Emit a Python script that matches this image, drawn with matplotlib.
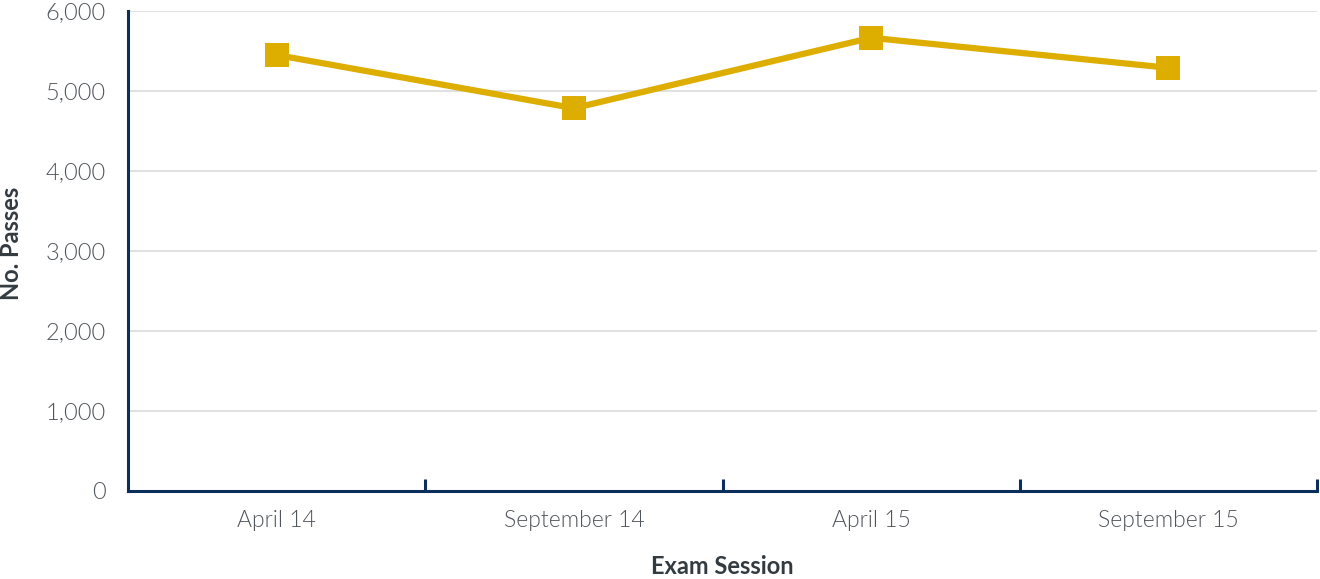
import matplotlib.pyplot as plt
from matplotlib.ticker import FuncFormatter

sessions = ["April 14", "September 14", "April 15", "September 15"]
passes = [5450, 4785, 5665, 5290]
y_ticks = [0, 1000, 2000, 3000, 4000, 5000, 6000]

navy = "#0b2f5b"
gold = "#ddae00"
label_grey = "#50555b"

plt.rcParams["font.family"] = ["Lato", "DejaVu Sans"]

fig = plt.figure(figsize=(13.2, 5.79), dpi=100)
ax = fig.add_axes([0.097, 0.152, 0.9008, 0.829])

x = list(range(len(sessions)))
ax.plot(x, passes, color=gold, linewidth=4.5, marker="s", markersize=17,
        markeredgewidth=0, zorder=3)

ax.set_xlim(-0.5, len(sessions) - 0.5)
ax.set_ylim(0, 6000)
ax.set_yticks(y_ticks)
ax.yaxis.set_major_formatter(FuncFormatter(lambda v, _: f"{int(v):,}"))
ax.tick_params(axis="y", length=0, pad=16, labelsize=17, labelcolor=label_grey)
for lab in ax.get_yticklabels():
    lab.set_fontweight(300)

# category boundaries as ticks, labels in the middle
ax.set_xticks([i + 0.5 for i in x])
ax.set_xticklabels([])
ax.tick_params(axis="x", which="major", direction="in", length=9, width=2.2, color=navy)
ax.set_xticks(x, minor=True)
ax.set_xticklabels(sessions, minor=True)
ax.tick_params(axis="x", which="minor", length=0, pad=14, labelsize=16.5, labelcolor=label_grey)
for lab in ax.get_xticklabels(minor=True):
    lab.set_fontweight(300)

ax.grid(axis="y", color="#dcdcdc", linewidth=1.2)
ax.set_axisbelow(True)
for side in ["top", "right"]:
    ax.spines[side].set_visible(False)
for side in ["left", "bottom"]:
    ax.spines[side].set_color(navy)
    ax.spines[side].set_linewidth(2.2)

ax.set_xlabel("Exam Session", fontsize=17, fontweight="bold", color="#333a40", labelpad=17)
ax.set_ylabel("No. Passes", fontsize=17, fontweight="bold", color="#333a40")
ax.yaxis.set_label_coords(-0.088, 0.515)

plt.savefig("out.png", dpi=100)
